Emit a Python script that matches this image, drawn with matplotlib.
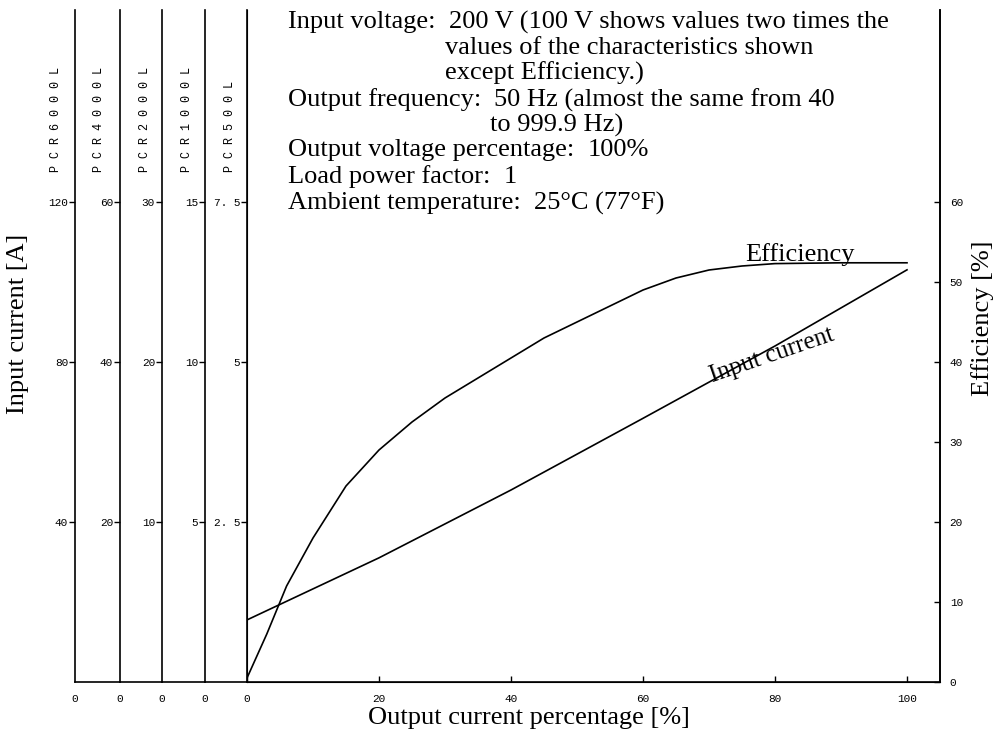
import matplotlib
matplotlib.use("Agg")
import matplotlib.pyplot as plt

# ---- data ---------------------------------------------------------------
output_pct = [0, 20, 40, 60, 80, 100]
# input current, PCR500L scale [A]
input_current = [0.97, 1.94, 3.00, 4.12, 5.25, 6.44]

eff_pct = [0, 3, 6, 10, 15, 20, 25, 30, 35, 40, 45, 50, 55, 60, 65, 70, 75,
           80, 90, 100]
efficiency = [0.5, 6, 12, 18, 24.5, 29, 32.5, 35.5, 38, 40.5, 43, 45, 47,
              49, 50.5, 51.5, 52, 52.3, 52.4, 52.4]

models = ["PCR6000L", "PCR4000L", "PCR2000L", "PCR1000L", "PCR500L"]
model_ticks = [["40", "80", "120"], ["20", "40", "60"], ["10", "20", "30"],
               ["5", "10", "15"], ["2. 5", "5", "7. 5"]]
model_tick_values = [[40, 80, 120], [20, 40, 60], [10, 20, 30],
                     [5, 10, 15], [2.5, 5, 7.5]]
model_ymax = [168, 84, 42, 21, 10.5]

x_ticks = [0, 20, 40, 60, 80, 100]
eff_ticks = [0, 10, 20, 30, 40, 50, 60]

# (head, rest, continuation lines)
notes = [
    (22, "Input voltage:  ", "200 V (100 V shows values two times the",
     ["values of the characteristics shown", "except Efficiency.)"]),
    (100, "Output frequency:  ", "50 Hz (almost the same from 40",
     ["to 999.9 Hz)"]),
    (150, "Output voltage percentage:  ", "100%", []),
    (177, "Load power factor:  ", "1", []),
    (203, "Ambient temperature:  ", "25°C (77°F)", []),
]

# ---- layout -------------------------------------------------------------
W, H = 1000, 734
fig = plt.figure(figsize=(W / 100, H / 100), dpi=100)
fig.patch.set_facecolor("white")

SERIF = ["Liberation Serif", "DejaVu Serif"]
MONO = ["Liberation Mono", "DejaVu Sans Mono"]
TICK_FS = 8
TXT_FS = 19
LW = 1.2

spine_x = [75, 120, 162, 205, 247]
x_right = 940
y_top, y_bot = 10, 682


def fx(px):
    return px / W


def fy(py):
    return 1 - py / H


# stacked model scales on the left
for i in range(4):
    a = fig.add_axes([fx(spine_x[i]), fy(y_bot),
                      fx(spine_x[i + 1] - spine_x[i]), fy(y_top) - fy(y_bot)])
    a.set_facecolor("none")
    for s in ("top", "right"):
        a.spines[s].set_visible(False)
    for s in ("left", "bottom"):
        a.spines[s].set_linewidth(LW)
    a.set_xlim(0, 1)
    a.set_ylim(0, model_ymax[i])
    a.set_xticks([0])
    a.set_xticklabels(["0"], family=MONO, fontsize=TICK_FS)
    a.set_yticks(model_tick_values[i])
    a.set_yticklabels(model_ticks[i], family=MONO, fontsize=TICK_FS)
    a.tick_params(axis="x", length=0, pad=9)
    a.tick_params(axis="y", direction="out", length=4, width=1, pad=1)

# main axes (PCR500L scale on its left spine)
ax = fig.add_axes([fx(247), fy(y_bot), fx(x_right - 247), fy(y_top) - fy(y_bot)])
ax.set_facecolor("none")
ax.spines["top"].set_visible(False)
for s in ("left", "bottom", "right"):
    ax.spines[s].set_linewidth(LW)
ax.set_xlim(0, 105)
ax.set_ylim(0, model_ymax[4])
ax.set_xticks(x_ticks)
ax.set_xticklabels([str(v) for v in x_ticks], family=MONO, fontsize=TICK_FS)
ax.set_yticks(model_tick_values[4])
ax.set_yticklabels(model_ticks[4], family=MONO, fontsize=TICK_FS)
ax.tick_params(axis="x", direction="in", length=4, width=1, pad=9)
ax.tick_params(axis="y", direction="out", length=4, width=1, pad=1)
ax.plot(output_pct, input_current, color="black", lw=LW)

ax2 = ax.twinx()
ax2.spines["top"].set_visible(False)
ax2.spines["right"].set_linewidth(LW)
ax2.set_ylim(0, 84)
ax2.set_yticks(eff_ticks)
ax2.set_yticklabels([str(v) for v in eff_ticks], family=MONO, fontsize=TICK_FS)
ax2.tick_params(axis="y", direction="in", length=4, width=1, pad=7)
ax2.plot(eff_pct, efficiency, color="black", lw=LW)

# model names, bottom-aligned above the top ticks
model_label_x = [56, 99, 145, 187, 230]
for name, xp in zip(models, model_label_x):
    fig.text(fx(xp), fy(172), " ".join(name), rotation=90, ha="center",
             va="bottom", family=MONO, fontsize=8.5)

# axis titles
fig.text(fx(18), fy(324), "Input current [A]", rotation=90, ha="center",
         va="center", family=SERIF, fontsize=TXT_FS)
fig.text(fx(983), fy(318), "Efficiency [%]", rotation=90, ha="center",
         va="center", family=SERIF, fontsize=TXT_FS)
fig.text(fx(529), fy(718), "Output current percentage [%]", ha="center",
         va="center", family=SERIF, fontsize=TXT_FS)

# condition notes, continuation lines aligned with the value column
renderer = fig.canvas.get_renderer()
line_step = 25.5
for yp, head, rest, more in notes:
    x0 = 288
    h = fig.text(fx(x0), fy(yp), head, ha="left", va="center", family=SERIF,
                 fontsize=TXT_FS)
    w = h.get_window_extent(renderer=renderer).width
    fig.text(fx(x0 + w), fy(yp), rest, ha="left", va="center", family=SERIF,
             fontsize=TXT_FS)
    for k, t in enumerate(more, start=1):
        fig.text(fx(x0 + w - 4), fy(yp + k * line_step), t, ha="left",
                 va="center", family=SERIF, fontsize=TXT_FS)

# curve labels
fig.text(fx(800), fy(255), "Efficiency", ha="center", va="center",
         family=SERIF, fontsize=TXT_FS)
fig.text(fx(772), fy(355), "Input current", ha="center", va="center",
         family=SERIF, fontsize=18, rotation=19)

fig.savefig("out.png", dpi=100, facecolor="white")
